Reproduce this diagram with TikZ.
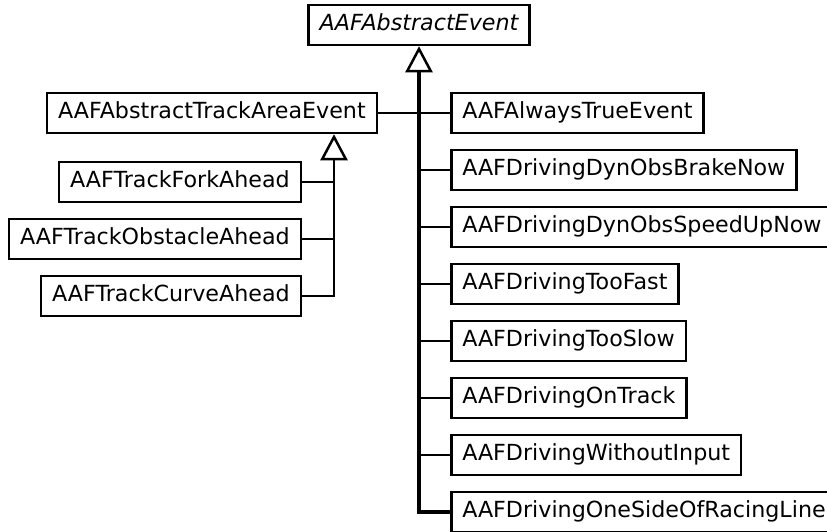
\documentclass[tikz,border=0pt]{standalone}
\usepackage{fontspec}
\setmainfont{DejaVu Sans}
\usetikzlibrary{arrows.meta}
\tikzset{
  classbox/.style={draw=black, line width=2.5pt, fill=white, minimum height=40pt, inner xsep=11pt, inner ysep=0pt, font=\fontsize{22.2}{25}\selectfont, text height=16pt, text depth=4.5pt},
  abstractbox/.style={classbox, font=\fontsize{22.2}{25}\selectfont\itshape},
  inherit/.style={line width=2.5pt},
  trunk/.style={line width=3.5pt},
  isa/.style={-{Triangle[open, length=26pt, width=27pt, line width=2.5pt]}}
}

\begin{document}
\begin{tikzpicture}[x=1pt, y=-1pt]
  \useasboundingbox[fill=white] (0,0) rectangle (827,531);
  % base class
  \node[abstractbox] (abstractevent) at (419,25) {AAFAbstractEvent};
  % track area branch
  \node[classbox, anchor=east] (trackarea) at (378,113) {AAFAbstractTrackAreaEvent};
  \node[classbox, anchor=east] (forkahead) at (302,182) {AAFTrackForkAhead};
  \node[classbox, anchor=east] (obstacleahead) at (302,239) {AAFTrackObstacleAhead};
  \node[classbox, anchor=east] (curveahead) at (302,296) {AAFTrackCurveAhead};
  % direct subclasses
  \node[classbox, anchor=west] (alwaystrue) at (450,113) {AAFAlwaysTrueEvent};
  \node[classbox, anchor=west] (brakenow) at (450,170) {AAFDrivingDynObsBrakeNow};
  \node[classbox, anchor=west] (speedupnow) at (450,227) {AAFDrivingDynObsSpeedUpNow};
  \node[classbox, anchor=west] (toofast) at (450,284) {AAFDrivingTooFast};
  \node[classbox, anchor=west] (tooslow) at (450,341) {AAFDrivingTooSlow};
  \node[classbox, anchor=west] (ontrack) at (450,398) {AAFDrivingOnTrack};
  \node[classbox, anchor=west] (withoutinput) at (450,455) {AAFDrivingWithoutInput};
  \node[classbox, anchor=west] (racingline) at (450,512) {AAFDrivingOneSideOfRacingLine};

  % inheritance edges
  \draw[trunk, isa] (racingline.west) -| (abstractevent.south);
  \draw[inherit] (trackarea.east) -- (trackarea.east -| abstractevent.south);
  \draw[inherit] (alwaystrue.west) -- (alwaystrue.west -| abstractevent.south);
  \draw[inherit] (brakenow.west) -- (brakenow.west -| abstractevent.south);
  \draw[inherit] (speedupnow.west) -- (speedupnow.west -| abstractevent.south);
  \draw[inherit] (toofast.west) -- (toofast.west -| abstractevent.south);
  \draw[inherit] (tooslow.west) -- (tooslow.west -| abstractevent.south);
  \draw[inherit] (ontrack.west) -- (ontrack.west -| abstractevent.south);
  \draw[inherit] (withoutinput.west) -- (withoutinput.west -| abstractevent.south);

  \coordinate (trackbus) at (334,0);
  \draw[inherit, isa] (curveahead.east) -| (trackarea.south -| trackbus);
  \draw[inherit] (forkahead.east) -- (forkahead.east -| trackbus);
  \draw[inherit] (obstacleahead.east) -- (obstacleahead.east -| trackbus);
\end{tikzpicture}
\end{document}
